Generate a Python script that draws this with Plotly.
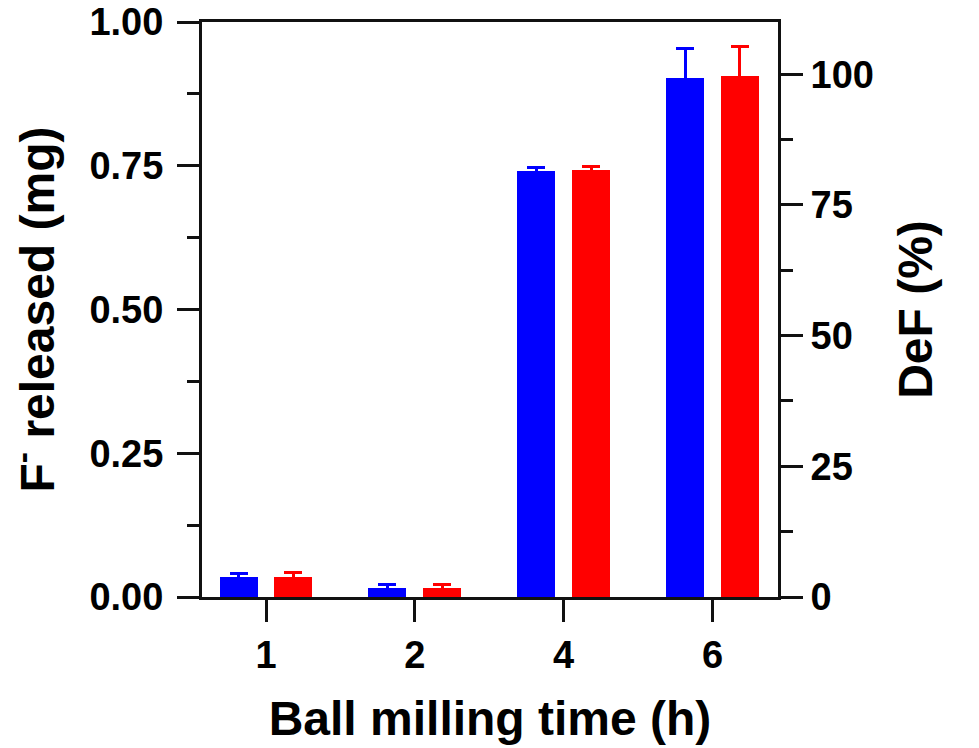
import plotly.graph_objects as go

categories = ["1", "2", "4", "6"]
f_released_mg = [0.035, 0.016, 0.741, 0.903]
f_released_err = [0.006, 0.005, 0.006, 0.051]
def_percent = [3.9, 1.8, 81.7, 99.6]
def_err = [0.7, 0.5, 0.7, 5.7]

FONT = "Arial, Liberation Sans, sans-serif"
AX = "#111111"

fig = go.Figure()
fig.add_trace(go.Bar(
    x=categories, y=f_released_mg, yaxis="y",
    marker=dict(color="#0000FF", line=dict(width=0)),
    width=0.255, offset=-0.312,
    error_y=dict(type="data", array=f_released_err, visible=True,
                 color="#0000FF", thickness=3, width=9),
    showlegend=False,
))
fig.add_trace(go.Bar(
    x=categories, y=def_percent, yaxis="y2",
    marker=dict(color="#FF0000", line=dict(width=0)),
    width=0.255, offset=0.057,
    error_y=dict(type="data", array=def_err, visible=True,
                 color="#FF0000", thickness=3, width=9),
    showlegend=False,
))

tickfont = dict(family=FONT, size=38, color="black", weight="bold")
titlefont = dict(family=FONT, size=48, color="black", weight="bold")

fig.update_layout(
    width=979, height=748,
    margin=dict(l=202, r=201, t=22, b=151, autoexpand=False),
    plot_bgcolor="white", paper_bgcolor="white",
    bargap=0,
    xaxis=dict(
        type="category", range=[-0.43, 3.44], automargin=False,
        showline=True, linecolor=AX, linewidth=3, mirror=True,
        ticks="outside", ticklen=22, tickwidth=3, tickcolor=AX,
        tickfont=tickfont, showgrid=False, zeroline=False,
        title=dict(text="Ball milling time (h)", font=titlefont, standoff=27),
    ),
    yaxis=dict(
        range=[0, 1], tickvals=[0, 0.25, 0.5, 0.75, 1.0], automargin=False,
        ticktext=["0.00", "0.25", "0.50", "0.75", "1.00"],
        ticklabeloverflow="allow",
        showline=True, linecolor=AX, linewidth=3,
        ticks="outside", ticklen=22, tickwidth=3, tickcolor=AX,
        ticklabelstandoff=6,
        minor=dict(tickvals=[0.125, 0.375, 0.625, 0.875], ticks="outside",
                   ticklen=12, tickwidth=3, tickcolor=AX, showgrid=False),
        tickfont=tickfont, showgrid=False, zeroline=False,
        title=dict(text="F<sup>-</sup> released (mg)", font=titlefont, standoff=20),
    ),
    yaxis2=dict(
        overlaying="y", side="right", range=[0, 110], automargin=False,
        tickvals=[0, 25, 50, 75, 100],
        ticklabeloverflow="allow",
        showline=True, linecolor=AX, linewidth=3,
        ticks="outside", ticklen=22, tickwidth=3, tickcolor=AX,
        minor=dict(tickvals=[12.5, 37.5, 62.5, 87.5], ticks="outside",
                   ticklen=12, tickwidth=3, tickcolor=AX, showgrid=False),
        tickfont=tickfont, showgrid=False, zeroline=False,
        title=dict(text="DeF (%)", font=titlefont, standoff=26),
    ),
)

fig.write_html("out.html", config={"displayModeBar": False},
               post_script="document.body.style.margin='0';")
